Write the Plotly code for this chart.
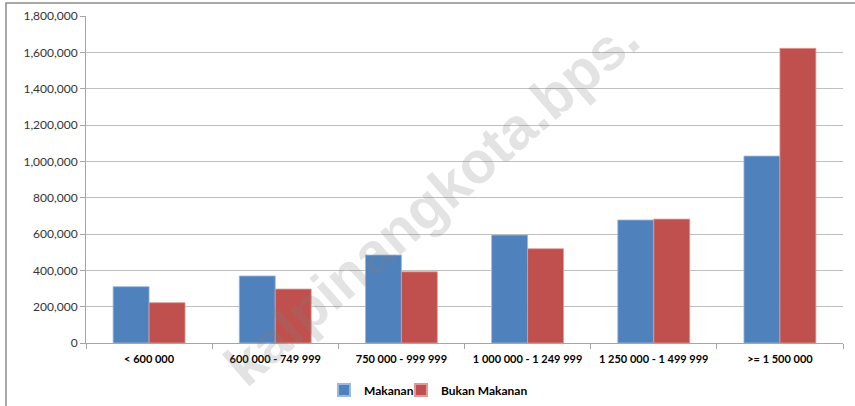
import plotly.graph_objects as go

categories = ["< 600 000", "600 000 - 749 999", "750 000 - 999 999",
              "1 000 000 - 1 249 999", "1 250 000 - 1 499 999", ">= 1 500 000"]
makanan = [310000, 369000, 484000, 594000, 677000, 1029000]
bukan_makanan = [222000, 297000, 392000, 519000, 682000, 1622000]
y_ticks = [0, 200000, 400000, 600000, 800000, 1000000, 1200000, 1400000, 1600000, 1800000]

FONT = "Lato, 'Liberation Sans', Arial, sans-serif"

fig = go.Figure()
fig.add_trace(go.Bar(name="Makanan", x=categories, y=makanan, legend="legend",
                     marker=dict(color="#4F81BD", line=dict(color="#9DB8DD", width=0.8))))
fig.add_trace(go.Bar(name="Bukan Makanan", x=categories, y=bukan_makanan, legend="legend2",
                     marker=dict(color="#C0504D", line=dict(color="#E09A98", width=0.8))))

legend_common = dict(orientation="h", yanchor="middle", y=(343 - 390) / 327,
                     xanchor="left", bgcolor="rgba(0,0,0,0)",
                     font=dict(family=FONT, size=12, color="#000", weight="bold"),
                     itemsizing="constant", itemwidth=30)

fig.update_layout(
    width=855, height=406,
    margin=dict(l=86, r=12, t=16, b=63, autoexpand=False),
    paper_bgcolor="white", plot_bgcolor="white",
    barmode="group", bargap=0.43, bargroupgap=0,
    font=dict(family=FONT, size=11, color="#000"),
    showlegend=True,
    legend=dict(legend_common, x=(324 - 86) / 757),
    legend2=dict(legend_common, x=(401 - 86) / 757),
    xaxis=dict(showline=True, linecolor="#A6A6A6", linewidth=1, automargin=False,
               ticks="outside", tickson="boundaries", ticklen=5, tickcolor="#A6A6A6",
               ticklabelstandoff=6,
               tickfont=dict(family=FONT, size=11, color="#000", weight="bold"),
               showgrid=False, fixedrange=True),
    yaxis=dict(range=[0, 1800000], tickvals=y_ticks, tickformat=",d", automargin=False,
               showline=True, linecolor="#A6A6A6", linewidth=1,
               ticks="outside", ticklen=5, tickcolor="#A6A6A6",
               tickfont=dict(family=FONT, size=12, color="#333"),
               showgrid=True, gridcolor="#BFBFBF", gridwidth=1, zeroline=False,
               fixedrange=True),
    shapes=[dict(type="rect", xref="paper", yref="paper",
                 x0=-0.1057, x1=1.05, y0=-0.3, y1=1.0398,
                 line=dict(color="#8C8C8C", width=1.5), fillcolor="rgba(0,0,0,0)")],
    annotations=[dict(text="kalpinangkota.bps.", xref="paper", yref="paper",
                      x=(431 - 86) / 757, y=(343 - 202) / 327,
                      xanchor="center", yanchor="middle", showarrow=False,
                      textangle=-41,
                      font=dict(family="'Liberation Sans', Arial, sans-serif", size=58,
                                color="rgba(128,128,128,0.22)", weight="bold"))],
)

fig.write_html("out.html", config={"displayModeBar": False},
               post_script="document.body.style.margin='0';")
